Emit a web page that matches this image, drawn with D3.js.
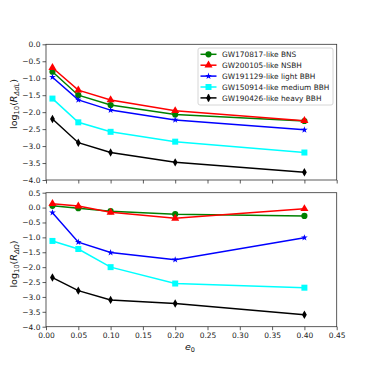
<!DOCTYPE html>
<html><head><meta charset="utf-8">
<script src="https://cdn.jsdelivr.net/npm/d3@7"></script>
<style>body{margin:0;background:#fff}svg{display:block}text{font-family:"DejaVu Sans",sans-serif}</style>
</head><body><svg id="c" width="374" height="374"></svg>
<script>
const e0 = [0.01, 0.05, 0.1, 0.2, 0.4];
const names = ["GW170817-like BNS","GW200105-like NSBH","GW191129-like light BBH","GW150914-like medium BBH","GW190426-like heavy BBH"];
const colors = ["green","red","blue","cyan","black"];
const shapes = ["circle","triangle","star","square","diamond"];
// top panel: log10(R_ΔdL)
const dL_BNS   = [-0.81, -1.50, -1.79, -2.07, -2.26];
const dL_NSBH  = [-0.69, -1.35, -1.64, -1.96, -2.25];
const dL_light = [-0.97, -1.64, -1.94, -2.23, -2.52];
const dL_med   = [-1.60, -2.30, -2.58, -2.87, -3.19];
const dL_heavy = [-2.20, -2.90, -3.19, -3.48, -3.77];
const dL_err   = [0.04, 0.04, 0.03, 0.03, 0.07];
// bottom panel: log10(R_ΔΩ)
const dO_BNS   = [0.06, -0.02, -0.12, -0.22, -0.28];
const dO_NSBH  = [0.13, 0.05, -0.16, -0.36, -0.04];
const dO_light = [-0.17, -1.16, -1.51, -1.75, -1.01];
const dO_med   = [-1.12, -1.39, -2.00, -2.55, -2.69];
const dO_heavy = [-2.35, -2.79, -3.10, -3.22, -3.60];
const dO_err   = [0.04, 0.04, 0.03, 0.03, 0.08];
const xTicks = [0, 0.05, 0.1, 0.15, 0.2, 0.25, 0.3, 0.35, 0.4, 0.45];
const yTicksTop = [0, -0.5, -1, -1.5, -2, -2.5, -3, -3.5, -4];
const yTicksBot = [0.5, 0, -0.5, -1, -1.5, -2, -2.5, -3, -3.5, -4];

const svg = d3.select("#c");
const L = 46, R = 336.7;
const x = d3.scaleLinear().domain([0, 0.45]).range([L, R]);
const fmt = d => d3.format(".2f")(d).replace("-", "\u2212");
const fmtY = d => d3.format(".1f")(d).replace("-", "\u2212");

function marker(g, shape, color) {
  let sym;
  if (shape === "circle") sym = d3.symbol(d3.symbolCircle, 30);
  else if (shape === "triangle") sym = d3.symbol(d3.symbolTriangle, 28);
  else if (shape === "star") sym = d3.symbol(d3.symbolStar, 14);
  else if (shape === "square") sym = d3.symbol(d3.symbolSquare, 36);
  if (shape === "diamond") {
    g.append("path").attr("d", "M0,-4.2L2.4,0L0,4.2L-2.4,0Z").attr("fill", color);
  } else {
    g.append("path").attr("d", sym()).attr("fill", color);
  }
}

function panel(top, bottom, yDomain, yTicks, series, errs, label, labelY, withLegend) {
  const y = d3.scaleLinear().domain(yDomain).range([bottom, top]);
  const g = svg.append("g");
  const line = d3.line().x((d, i) => x(e0[i])).y(d => y(d));
  series.forEach((s, k) => {
    g.append("path").attr("d", line(s)).attr("fill", "none").attr("stroke", colors[k]).attr("stroke-width", 1.5);
    s.forEach((v, i) => {
      const e = errs[i] * (k === 4 ? 1 : 0.6);
      g.append("line").attr("x1", x(e0[i])).attr("x2", x(e0[i])).attr("y1", y(v - e)).attr("y2", y(v + e))
        .attr("stroke", colors[k]).attr("stroke-width", 1.5);
      marker(g.append("g").attr("transform", `translate(${x(e0[i])},${y(v)})`), shapes[k], colors[k]);
    });
  });
  g.append("rect").attr("x", L).attr("y", top).attr("width", R - L).attr("height", bottom - top)
    .attr("fill", "none").attr("stroke", "#333").attr("stroke-width", 0.8);
  const ya = g.append("g").attr("transform", `translate(${L},0)`)
    .call(d3.axisLeft(y).tickValues(yTicks).tickFormat(fmtY).tickSize(3.5).tickPadding(2));
  ya.select(".domain").remove();
  ya.selectAll("text").attr("font-size", 7.5).attr("fill", "#222").attr("font-family", "DejaVu Sans");
  ya.selectAll("line").attr("stroke", "#333").attr("stroke-width", 0.8);
  const xa = g.append("g").attr("transform", `translate(0,${bottom})`)
    .call(d3.axisBottom(x).tickValues(xTicks).tickFormat(withLegend ? "" : fmt).tickSize(3.5).tickPadding(2));
  xa.select(".domain").remove();
  xa.selectAll("text").attr("font-size", 7.5).attr("fill", "#222").attr("font-family", "DejaVu Sans");
  xa.selectAll("line").attr("stroke", "#333").attr("stroke-width", 0.8);
  // y label
  const t = g.append("text").attr("transform", `translate(17,${labelY}) rotate(-90)`)
    .attr("text-anchor", "middle").attr("font-size", 9.5).attr("fill", "#111");
  t.append("tspan").text("log");
  t.append("tspan").text("10").attr("font-size", 6.8).attr("dy", 2);
  t.append("tspan").text("(").attr("dy", -2);
  t.append("tspan").text("R").attr("font-style", "italic");
  t.append("tspan").text(label).attr("font-size", 6.8).attr("dy", 2).attr("font-style", "italic");
  t.append("tspan").text(")").attr("dy", -2);
  if (withLegend) {
    const lg = g.append("g");
    lg.append("rect").attr("x", 198).attr("y", 48).attr("width", 135).attr("height", 57).attr("rx", 2)
      .attr("fill", "white").attr("fill-opacity", 0.8).attr("stroke", "#ccc").attr("stroke-width", 0.8);
    names.forEach((n, k) => {
      const yy = 54.3 + k * 10.9;
      lg.append("line").attr("x1", 200.5).attr("x2", 216.5).attr("y1", yy).attr("y2", yy).attr("stroke", colors[k]).attr("stroke-width", 1.5);
      if (k === 4) lg.append("line").attr("x1", 208.5).attr("x2", 208.5).attr("y1", yy - 3.5).attr("y2", yy + 3.5).attr("stroke", colors[k]).attr("stroke-width", 1.5);
      marker(lg.append("g").attr("transform", `translate(208.5,${yy})`), shapes[k], colors[k]);
      lg.append("text").attr("x", 222).attr("y", yy + 2.7).attr("font-size", 7.4).attr("fill", "#222").text(n);
    });
  }
}

panel(44.3, 180, [-4, 0], yTicksTop, [dL_BNS, dL_NSBH, dL_light, dL_med, dL_heavy], dL_err, "\u0394dL", 104, true);
panel(192.7, 326.7, [-4, 0.5], yTicksBot, [dO_BNS, dO_NSBH, dO_light, dO_med, dO_heavy], dO_err, "\u0394\u03A9", 264, false);

const xl = svg.append("text").attr("x", 190).attr("y", 350).attr("text-anchor", "middle").attr("font-size", 9.5).attr("fill", "#111");
xl.append("tspan").text("e").attr("font-style", "italic");
xl.append("tspan").text("0").attr("font-size", 6.5).attr("dy", 2);
</script></body></html>
